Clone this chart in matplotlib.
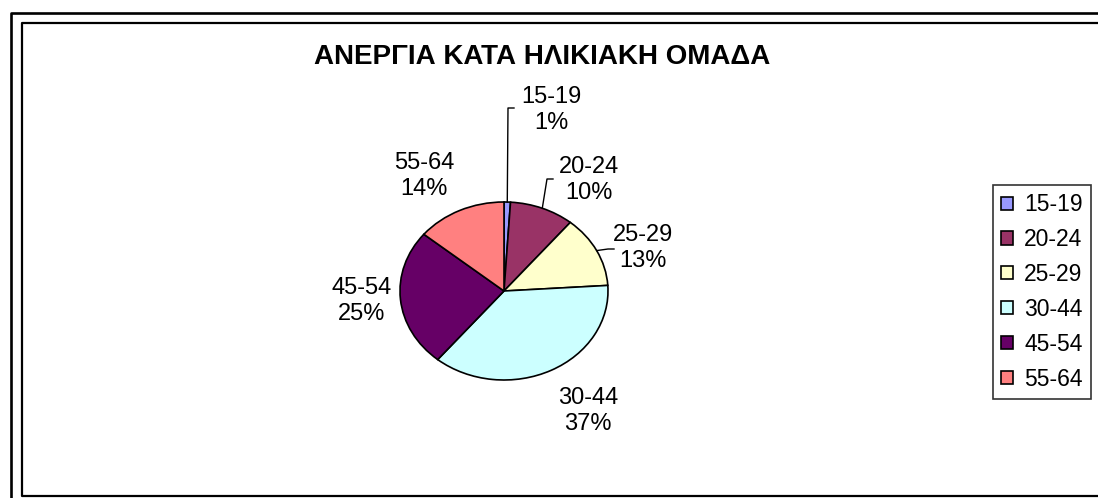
import numpy as np
import matplotlib.pyplot as plt
from matplotlib.lines import Line2D

plt.rcParams['font.family'] = ['Liberation Sans', 'DejaVu Sans']

# Ανεργία ανά ηλικιακή ομάδα (%)
groups = ["15-19", "20-24", "25-29", "30-44", "45-54", "55-64"]
shares = [1, 10, 13, 37, 25, 14]
colors = ["#9999FF", "#993366", "#FFFFCC", "#CCFFFF", "#660066", "#FF8080"]

W, H = 1098, 498
fig = plt.figure(figsize=(W / 100, H / 100), dpi=100)

# pie axes: centre at (504, 291) px, radii 104 x 89 px (stretched pie)
cx, cy, rx, ry = 504, 291, 104, 89
ax = fig.add_axes([(cx - 1.25 * rx) / W, (H - cy - 1.25 * ry) / H,
                   2.5 * rx / W, 2.5 * ry / H])
wedges, _ = ax.pie(shares, colors=colors, startangle=90, counterclock=False,
                   wedgeprops=dict(edgecolor='black', linewidth=1.2))
ax.set_aspect('auto')
ax.set_xlim(-1.25, 1.25)
ax.set_ylim(-1.25, 1.25)


def to_data(px, py):
    return ax.transData.inverted().transform((px, H - py))


# label block centres in pixels, plus leader elbows where Excel drew one
label_pos = [(551, 110), (589, 180), (643, 248), (588, 411), (362, 301), (424, 176)]
leaders = {0: (508, 108), 1: (547, 179), 2: (608, 249)}

for i, (w, g, s) in enumerate(zip(wedges, groups, shares)):
    lx, ly = to_data(*label_pos[i])
    ax.text(lx, ly, f"{g}\n{s}%", ha='center', va='center', fontsize=17,
            linespacing=1.25, clip_on=False)
    if i in leaders:
        mid = np.deg2rad((w.theta1 + w.theta2) / 2)
        x0, y0 = np.cos(mid), np.sin(mid)
        ex, ey = to_data(*leaders[i])
        tx, _ = to_data(leaders[i][0] + 6, leaders[i][1])
        ax.plot([x0, ex, tx], [y0, ey, ey], color='black', lw=1, clip_on=False)

fig.text(542 / W, 1 - 57 / H, "ΑΝΕΡΓΙΑ ΚΑΤΑ ΗΛΙΚΙΑΚΗ ΟΜΑΔΑ", ha='center',
         va='center', fontsize=20, fontweight='bold')

leg = fig.legend(wedges, groups, loc='upper left',
                 bbox_to_anchor=(993 / W, 1 - 185 / H), fontsize=16.5,
                 frameon=True, fancybox=False, edgecolor='black',
                 handlelength=0.5, handleheight=0.5, handletextpad=0.5,
                 labelspacing=0.52, borderpad=0.36, borderaxespad=0)
leg.get_frame().set_linewidth(1.2)

# double frame around the chart area
fig.add_artist(Line2D([11 / W, 11 / W, 1.0], [0, 1 - 13 / H, 1 - 13 / H],
                      color='black', lw=1.9, transform=fig.transFigure))
fig.add_artist(Line2D([1.0, 22 / W, 22 / W, 1.0],
                      [1 - 23 / H, 1 - 23 / H, 1 - 496 / H, 1 - 496 / H],
                      color='black', lw=1.6, transform=fig.transFigure))

fig.savefig('out.png', dpi=100)
